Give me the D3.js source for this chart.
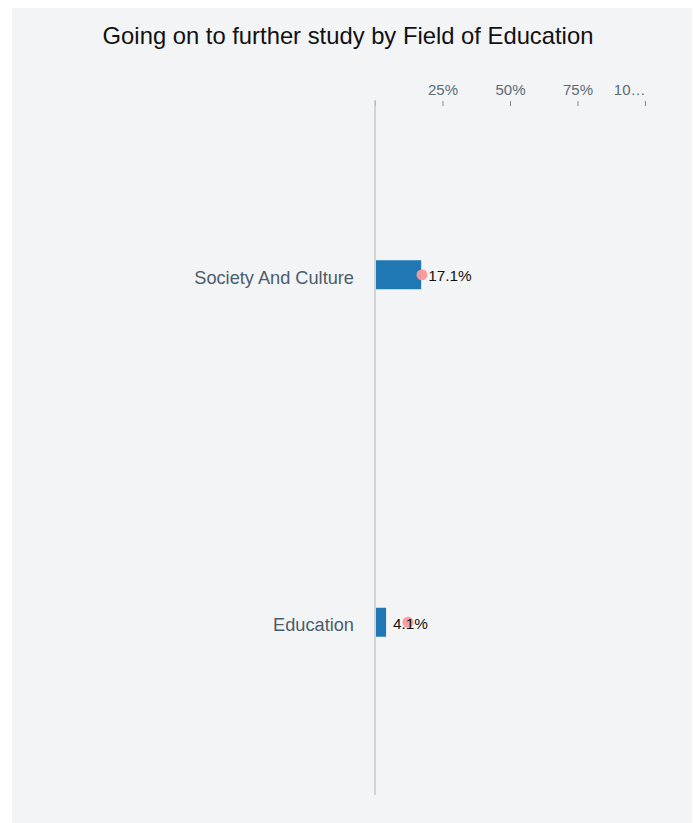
<!DOCTYPE html>
<html><head><meta charset="utf-8">
<script src="https://cdn.jsdelivr.net/npm/d3@7"></script>
<style>
body{margin:0;background:#fff;font-family:"Liberation Sans",Arial,Helvetica,sans-serif;}
</style></head><body>
<script>
const categories = ["Society And Culture", "Education"];
const barValues = [17.1, 4.1];
const dotValues = [17.4, 12.2];
const tickValues = [0, 25, 50, 75, 100];
const tickLabels = ["", "25%", "50%", "75%", "10\u2026"];
const title = "Going on to further study by Field of Education";

const W = 693, H = 823;
const svg = d3.select("body").append("svg").attr("width", W).attr("height", H);
svg.append("rect").attr("x", 12).attr("y", 8).attr("width", 680).attr("height", 815).attr("fill", "#f3f4f6");

svg.append("text").attr("x", 348).attr("y", 44).attr("text-anchor", "middle")
  .attr("font-size", 23.8).attr("fill", "#111").text(title);

const x = d3.scaleLinear().domain([0, 100]).range([375, 645]);
const y = d3.scaleBand().domain(categories).range([101, 796]);

const ax = svg.append("g").attr("transform", "translate(0,106)")
  .call(d3.axisTop(x).tickValues(tickValues).tickFormat((d, i) => tickLabels[i]).tickSize(5).tickPadding(6));
ax.select(".domain").remove();
ax.selectAll(".tick line").attr("stroke", "#888");
ax.selectAll(".tick text").attr("fill", "#5b6b78").attr("font-size", 15).attr("font-family", "Liberation Sans, Arial, sans-serif");
ax.selectAll(".tick text").filter(d => d === 100).attr("text-anchor", "end");

svg.append("line").attr("x1", x(0)).attr("x2", x(0)).attr("y1", 100).attr("y2", 795)
  .attr("stroke", "#c8c8c8").attr("stroke-width", 1.5);

const barH = 29;
categories.forEach((c, i) => {
  const cy = y(c) + y.bandwidth() / 2;
  svg.append("rect").attr("x", x(0) + 1).attr("y", cy - barH / 2).attr("width", x(barValues[i]) - x(0) - 1).attr("height", barH)
    .attr("fill", "#1f77b4");
  svg.append("circle").attr("cx", x(dotValues[i])).attr("cy", cy).attr("r", 5.5).attr("fill", "#f79a9a").attr("opacity", 0.95);
  svg.append("text").attr("x", x(barValues[i]) + 7).attr("y", cy + 6.5).attr("font-size", 15.3).attr("fill", "#111")
    .text(barValues[i].toFixed(1) + "%");
  svg.append("text").attr("x", 354).attr("y", cy + 9).attr("text-anchor", "end").attr("font-size", 18.2).attr("fill", "#4b5d6b")
    .text(c);
});
</script>
</body></html>
